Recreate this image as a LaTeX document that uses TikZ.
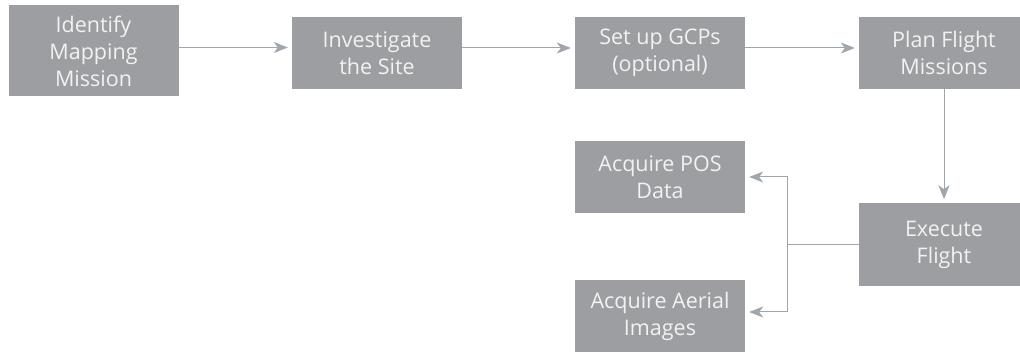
\documentclass[tikz,border=0pt]{standalone}
\usepackage{fontspec}
\setmainfont{Open Sans}
\usetikzlibrary{arrows.meta}

\definecolor{boxgray}{RGB}{157,158,162}
\definecolor{linegray}{RGB}{160,166,174}

\tikzset{
  stepbox/.style={fill=boxgray, text=white!95!black, align=center,
    minimum width=170pt, minimum height=72pt, inner sep=0pt,
    font=\fontsize{21.5}{27}\selectfont},
  flow/.style={draw=linegray, line width=1pt,
    -{Stealth[length=14pt,width=11pt,inset=4pt]}, shorten >=4pt}
}

\begin{document}
\begin{tikzpicture}[x=1pt,y=-1pt]

\useasboundingbox (0,0) rectangle (1020,352);
\clip (0,0) rectangle (1020,352);

% top row
\node[stepbox, minimum height=91pt] (id) at (93.5,51) {Identify\\Mapping\\Mission};
\node[stepbox] (site) at (377,53) {Investigate\\the Site};
\node[stepbox] (gcp) at (660,53) {Set up GCPs\\(optional)};
\node[stepbox] (plan) at (944,53) {Plan Flight\\Missions};

% lower part
\node[stepbox, minimum height=83pt] (exec) at (944,245) {Execute\\Flight};
\node[stepbox] (pos) at (660,177) {Acquire POS\\Data};
\node[stepbox] (aerial) at (660,316) {Acquire Aerial\\Images};

\draw[flow] ([yshift=3.5pt]id.east) -- ([yshift=3.5pt]id.east -| site.west);
\draw[flow] ([yshift=5pt]site.east) -- ([yshift=5pt]site.east -| gcp.west);
\draw[flow] ([yshift=5pt]gcp.east) -- ([yshift=5pt]gcp.east -| plan.west);
\draw[flow] (plan.south) -- (exec.north);

\draw[draw=linegray, line width=1pt] (exec.west) -- ++(-71,0) coordinate (split);
\draw[flow] (split) |- (pos.east);
\draw[flow] (split) |- ([yshift=4pt]aerial.east);

\end{tikzpicture}
\end{document}
